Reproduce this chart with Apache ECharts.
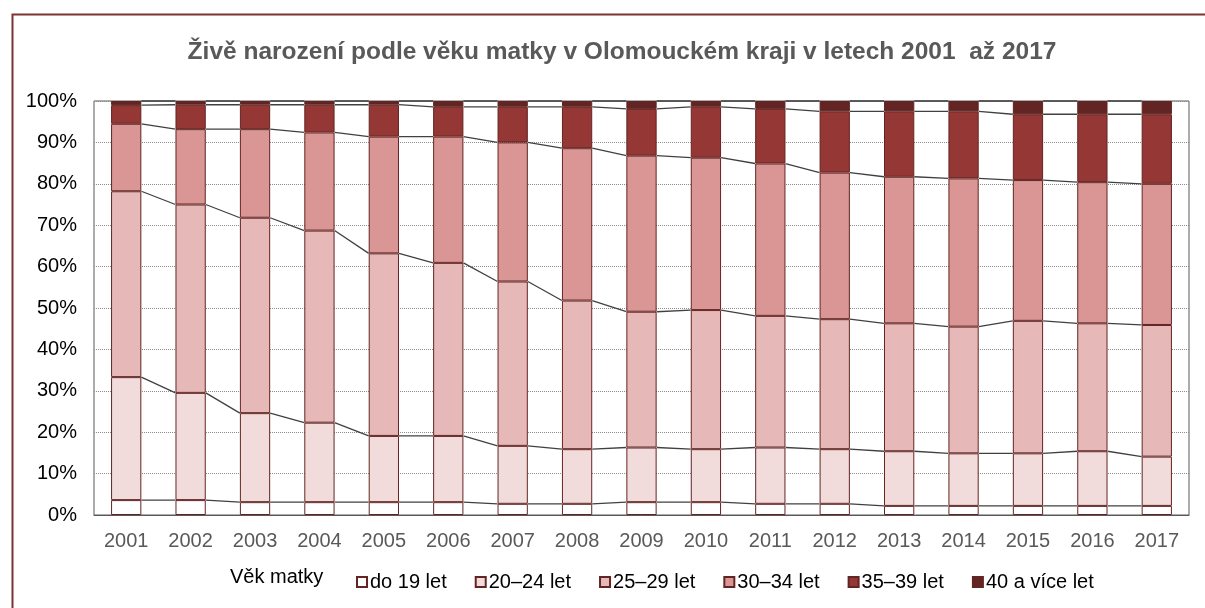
<!DOCTYPE html>
<html>
<head>
<meta charset="utf-8">
<script src="https://cdn.jsdelivr.net/npm/echarts@6/dist/echarts.min.js"></script>
<style>
  html, body { margin: 0; padding: 0; background: #fff; }
  #chart { width: 1205px; height: 608px; }
</style>
</head>
<body>
<div id="chart"></div>
<script>
// roky
var years = ["2001", "2002", "2003", "2004", "2005", "2006", "2007", "2008", "2009",
    "2010", "2011", "2012", "2013", "2014", "2015", "2016", "2017"];

// podíly (%) podle věku matky
var do19 = [3.6, 3.6, 3.1, 3.1, 3.1, 3.1, 2.7, 2.7, 3.1, 3.1, 2.7, 2.7, 2.2, 2.2, 2.2, 2.2, 2.2];
var v20_24 = [29.7, 25.9, 21.5, 19.2, 16.0, 16.0, 14.0, 13.2, 13.2, 12.8, 13.6, 13.2, 13.2, 12.7, 12.7, 13.2, 11.9];
var v25_29 = [44.9, 45.5, 47.2, 46.4, 44.1, 41.8, 39.7, 35.9, 32.8, 33.6, 31.8, 31.4, 30.9, 30.6, 32.0, 30.9, 31.8];
var v30_34 = [16.3, 18.2, 21.4, 23.7, 28.2, 30.5, 33.6, 36.8, 37.7, 36.8, 36.8, 35.4, 35.4, 35.8, 34.0, 34.1, 34.1];
var v35_39 = [4.5, 5.9, 5.9, 6.7, 7.7, 7.2, 8.6, 10.0, 11.3, 12.3, 13.2, 14.8, 15.8, 16.2, 15.9, 16.4, 16.8];
var v40 = [1.0, 0.9, 0.9, 0.9, 0.9, 1.4, 1.4, 1.4, 1.9, 1.4, 1.9, 2.5, 2.5, 2.5, 3.2, 3.2, 3.2];

var names = ["do 19 let", "20\u201324 let", "25\u201329 let", "30\u201334 let", "35\u201339 let", "40 a více let"];
var colors = ["#ffffff", "#f2dcdb", "#e6b9b8", "#d99694", "#953735", "#632523"];
var values = [do19, v20_24, v25_29, v30_34, v35_39, v40];

var FONT = "Liberation Sans, Arial, sans-serif";
var BAR_FRAC = 0.47;

// kumulativní součty pro spojnice řad
var cum = [];
values.forEach(function (arr, k) {
    cum.push(arr.map(function (v, i) {
        return (k > 0 ? cum[k - 1][i] : 0) + v;
    }));
});

var chart = echarts.init(document.getElementById("chart"));

var series = values.map(function (arr, k) {
    return {
        name: names[k],
        type: "bar",
        stack: "total",
        barWidth: BAR_FRAC * 100 + "%",
        data: arr,
        itemStyle: { color: colors[k], borderColor: "#632523", borderWidth: 1 },
        emphasis: { disabled: true }
    };
});

// spojnice řad mezi sloupci
series.push({
    type: "custom",
    silent: true,
    z: 5,
    data: years.map(function (y, i) { return [i, 0]; }),
    renderItem: function (params, api) {
        var i = params.dataIndex;
        if (i >= years.length - 1) return;
        var half = api.size([1, 0])[0] * BAR_FRAC / 2;
        var children = cum.map(function (c) {
            var a = api.coord([i, c[i]]);
            var b = api.coord([i + 1, c[i + 1]]);
            return {
                type: "line",
                shape: { x1: a[0] + half, y1: a[1], x2: b[0] - half, y2: b[1] },
                style: { stroke: "#404040", lineWidth: 1.3 }
            };
        });
        return { type: "group", children: children };
    }
});

chart.setOption({
    animation: false,
    title: {
        text: "Živě narození podle věku matky v Olomouckém kraji v letech 2001  až 2017",
        left: 617,
        textAlign: "center",
        top: 35,
        textStyle: { color: "#595959", fontSize: 24.5, fontWeight: "bold", fontFamily: FONT }
    },
    legend: {
        data: names,
        left: 351,
        top: 567,
        itemWidth: 10,
        itemHeight: 10,
        itemGap: 28,
        icon: "rect",
        textStyle: { color: "#000", fontSize: 20, fontFamily: FONT, padding: [0, 0, 0, -2] }
    },
    grid: {
        left: 94,
        right: 16,
        top: 101,
        bottom: 93,
        show: true,
        borderColor: "#595959",
        borderWidth: 1
    },
    xAxis: {
        type: "category",
        data: years,
        axisTick: { show: false },
        axisLine: { lineStyle: { color: "#595959" } },
        axisLabel: { color: "#595959", fontSize: 20, fontFamily: FONT, margin: 16 }
    },
    yAxis: {
        type: "value",
        min: 0,
        max: 100,
        interval: 10,
        axisLine: { show: false },
        axisTick: { show: false },
        axisLabel: { formatter: "{value}%", color: "#000", fontSize: 20, fontFamily: FONT, margin: 17 },
        splitLine: { lineStyle: { color: "#8c8c8c", type: "dotted", width: 1 } }
    },
    graphic: [
        {
            type: "rect",
            left: 10, top: 12,
            shape: { width: 1300, height: 700 },
            style: { fill: "none", stroke: "#7f3232", lineWidth: 2 },
            silent: true
        },
        {
            type: "text",
            left: 230, top: 567,
            style: { text: "Věk matky", fill: "#000", font: "20px " + FONT }
        }
    ],
    series: series
});
</script>
</body>
</html>
